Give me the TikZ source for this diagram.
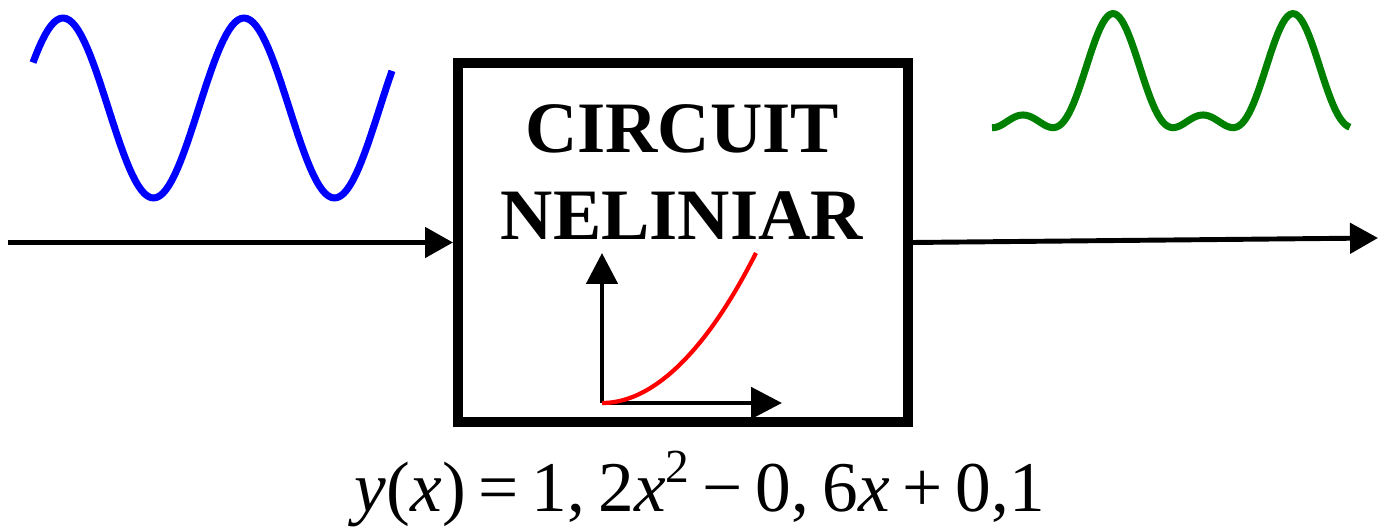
\documentclass[tikz,border=0pt]{standalone}
\usepackage{fontspec}
\setmainfont{Liberation Serif}
\usetikzlibrary{arrows.meta}
\definecolor{wavegreen}{RGB}{0,128,0}
\newcommand{\opsp}{\hspace{0.13cm}}

\begin{document}
\begin{tikzpicture}[x=1cm, y=1cm,
    signal/.style={-{Triangle[length=0.28cm,width=0.30cm]}, line width=1.4pt},
    axis/.style={-{Triangle[length=0.31cm,width=0.31cm]}, line width=1.4pt},
    wave/.style={line width=2pt, line join=round},
    title/.style={anchor=base, inner sep=0pt, font=\fontsize{20.6pt}{24.7pt}\selectfont\bfseries}]
    \useasboundingbox (0,0) rectangle (13.79,5.29);

    % Block
    \node[draw, line width=0.1cm, minimum width=4.5cm, minimum height=3.59cm, inner sep=0pt] (circ) at (6.83,2.865) {};
    \node[title] (name1) at (6.82,3.76) {CIRCUIT};
    \node[title] (name2) at (6.82,2.89) {NELINIAR};

    % Input and output
    \coordinate (in) at (0.08,2.865);
    \coordinate (out) at (13.78,2.91);
    \draw[signal] (in) -- (circ.west);
    \draw[signal] (circ.east) -- (out);

    % Transfer characteristic
    \coordinate (org) at (6.02,1.26);
    \coordinate (ytip) at (6.02,2.76);
    \coordinate (xtip) at (7.82,1.26);
    \coordinate (ctop) at (7.56,2.76);
    \draw[axis] (org) -- (ytip);
    \draw[axis] (org) -- (xtip);
    \draw[red, line width=1.2pt] (org) parabola (ctop);

    % Input wave
    \draw[blue, wave] plot[domain=0.33:3.92, samples=120] (\x, {4.21+0.90*sin(198.9*(\x-0.1775))});

    % Output wave
    \draw[wavegreen, wave] plot[domain=9.92:13.50, samples=150]
        (\x, {4.14+0.507*(pow(cos(200*(\x-11.13)),2)+cos(200*(\x-11.13)))});

    % Equation
    \node[anchor=base, inner sep=0pt, font=\fontsize{20.3pt}{24pt}\selectfont] (eq) at (7.00,0.17)
        {\textit{y}(\textit{x})\opsp=\opsp1,\opsp2\textit{x}\raisebox{0.42em}{\fontsize{13.5pt}{14pt}\selectfont 2}\opsp−\opsp0,\opsp6\textit{x}\opsp+\opsp0,1};
\end{tikzpicture}
\end{document}
